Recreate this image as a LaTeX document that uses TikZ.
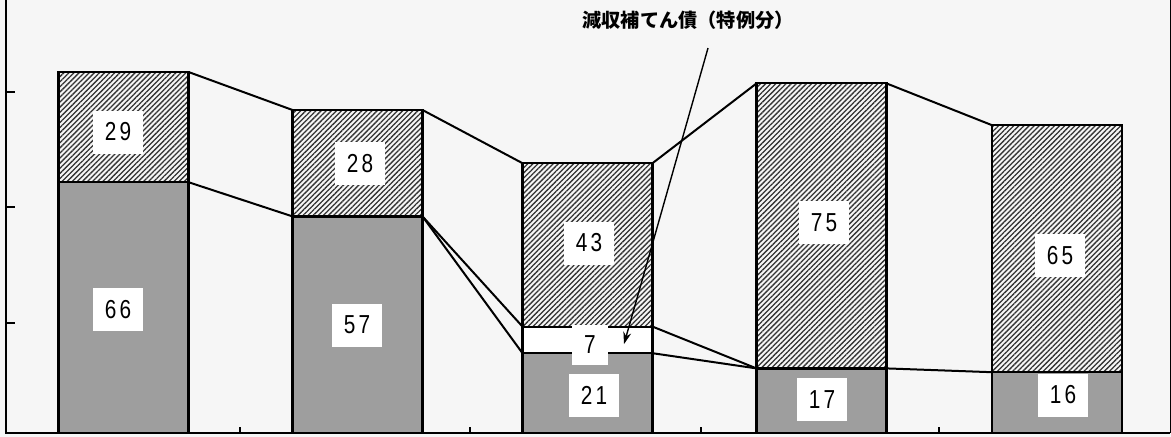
\documentclass[tikz,border=0pt]{standalone}
\usepackage{fontspec}
\setmainfont{Liberation Sans}
\newfontfamily\cjk{Noto Sans CJK JP}
\newfontfamily\numfont{Liberation Sans}[FakeStretch=0.8,LetterSpace=12]
\usepackage{tikz}
\usetikzlibrary{positioning}
\usetikzlibrary{arrows.meta}
\usetikzlibrary{patterns.meta}
\definecolor{bargray}{RGB}{158,158,158}
\definecolor{paper}{RGB}{246,246,246}

\begin{document}
\begin{tikzpicture}[
          x=0.5pt, y=1.9pt,
          bar/.style={draw, line width=1.1pt, minimum width=65pt,
                      inner sep=0pt, outer sep=0pt, anchor=south},
          graybar/.style={bar, fill=bargray},
          hatchbar/.style={bar, fill=white,
                      pattern={Lines[angle=45,distance=1.8pt,line width=0.65pt]},
                      pattern color=black!80},
          whitebar/.style={bar, fill=white},
          numbox/.style={fill=white, inner sep=0pt, minimum width=25pt,
                      minimum height=21.5pt, font=\numfont\fontsize{13pt}{13pt}\selectfont},
          link/.style={line width=1pt},
          pointer/.style={line width=0.7pt, -{Stealth[length=6pt,width=4pt]}}
      ]
        % paper and frame
        \useasboundingbox[fill=paper] (0,-1.05) rectangle (1171,113.95);
        \draw[line width=1pt] (6,113.95) -- (6,0) -- (1170,0);
        \draw[line width=0.5pt] (1170,0) -- (1170,113.95);
        \foreach \ty in {28.9,59.5,89.7} \draw[line width=1pt] (6,\ty) -- (15,\ty);
        \foreach \tx in {240,470,701,939} \draw[line width=1pt] (\tx,0) -- (\tx,1.6);

        % bars, stacked from the bottom
        \node[graybar, minimum height=66*1.9pt] (g1) at (123.5,0) {};
        \node[hatchbar, minimum height=29*1.9pt, above=0pt of g1] (h1) {};
        \node[graybar, minimum height=57*1.9pt] (g2) at (357.5,0) {};
        \node[hatchbar, minimum height=28*1.9pt, above=0pt of g2] (h2) {};
        \node[graybar, minimum height=21*1.9pt] (g3) at (587.5,0) {};
        \node[whitebar, minimum height=7*1.9pt, above=0pt of g3] (w3) {};
        \node[hatchbar, minimum height=43*1.9pt, above=0pt of w3] (h3) {};
        \node[graybar, minimum height=17*1.9pt] (g4) at (821.5,0) {};
        \node[hatchbar, minimum height=75*1.9pt, above=0pt of g4] (h4) {};
        \node[graybar, minimum height=16*1.9pt] (g5) at (1057,0) {};
        \node[hatchbar, minimum height=65*1.9pt, above=0pt of g5] (h5) {};

        % lines between the bars
        \draw[link] (h1.north east) -- (h2.north west);
        \draw[link] (g1.north east) -- (g2.north west);
        \draw[link] (h2.north east) -- (h3.north west);
        \draw[link] (g2.north east) -- (w3.north west);
        \draw[link] (g2.north east) -- (g3.north west);
        \draw[link] (h3.north east) -- (h4.north west);
        \draw[link] (w3.north east) -- (g4.north west);
        \draw[link] (g3.north east) -- (g4.north west);
        \draw[link] (h4.north east) -- (h5.north west);
        \draw[link] (g4.north east) -- (g5.north west);

        % values
        \node[numbox] (n29) at (118,79.2) {29};
        \node[numbox] (n66) at (118,32.4) {66};
        \node[numbox] (n28) at (360,70.8) {28};
        \node[numbox] (n57) at (357,28.4) {57};
        \node[numbox] (n43) at (589,50) {43};
        \node[numbox, minimum width=18pt, minimum height=20pt] (n7) at (590,23.2) {7};
        \node[numbox] (n21) at (594,10) {21};
        \node[numbox] (n75) at (824,55.3) {75};
        \node[numbox] (n17) at (822,8.9) {17};
        \node[numbox] (n65) at (1060,46.8) {65};
        \node[numbox] (n16) at (1063,10) {16};

        % note and its arrow
        \node[font=\cjk\bfseries\fontsize{9.6pt}{10pt}\selectfont] (note) at (688,108.7) {減収補てん債（特例分）};
        \coordinate (arrS) at (708,101.3);
        \coordinate (arrE) at (624,23.4);
        \draw[pointer] (arrS) -- (arrE);
      \end{tikzpicture}
\end{document}
